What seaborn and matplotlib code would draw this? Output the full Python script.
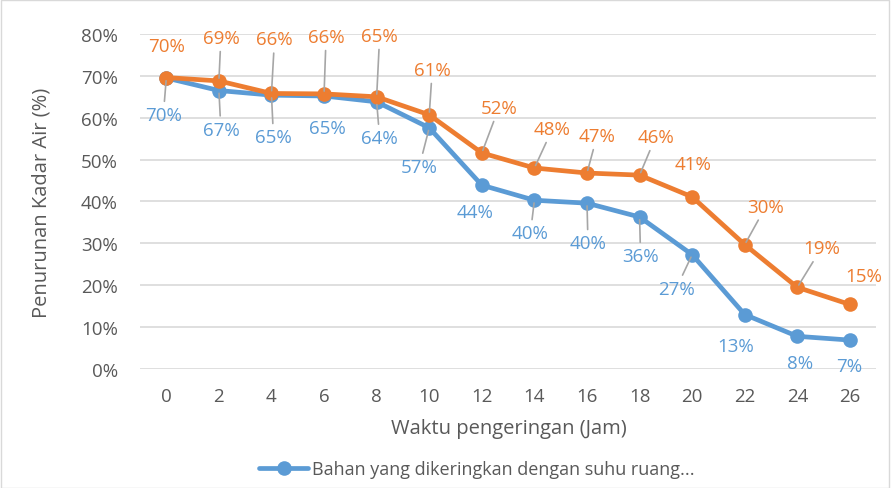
import numpy as np
import matplotlib
matplotlib.use("Agg")
import matplotlib.pyplot as plt
import seaborn as sns
from matplotlib.patches import Rectangle
from matplotlib.ticker import FuncFormatter

# data (%)
waktu = [0, 2, 4, 6, 8, 10, 12, 14, 16, 18, 20, 22, 24, 26]
suhu_ruang = [69.5, 66.5, 65.4, 65.2, 63.8, 57.6, 43.9, 40.3, 39.6, 36.3, 27.3, 13.0, 7.8, 6.9]
seri_2 = [69.6, 68.8, 65.8, 65.7, 65.0, 60.7, 51.6, 48.0, 46.8, 46.3, 41.1, 29.7, 19.5, 15.4]
label_ruang = ["70%", "67%", "65%", "65%", "64%", "57%", "44%", "40%", "40%", "36%", "27%", "13%", "8%", "7%"]
label_2 = ["70%", "69%", "66%", "66%", "65%", "61%", "52%", "48%", "47%", "46%", "41%", "30%", "19%", "15%"]
nama_ruang = "Bahan yang dikeringkan dengan suhu ruang..."

# layout of the data labels (offset pixels) and leader lines
off_ruang = [(-3, -37), (2, -39), (2, -42), (3, -32), (3, -36), (-10, -39), (-7, -27),
             (-4, -33), (1, -40), (1, -39), (-16, -34), (-9, -31), (3, -27), (-1, -26)]
lead_ruang = [1, 1, 1, 0, 1, 1, 0, 1, 1, 1, 1, 0, 0, 0]
off_2 = [(0, 32), (2, 43), (3, 54), (2, 57), (3, 61), (3, 45), (17, 45),
         (18, 39), (10, 37), (16, 38), (1, 33), (21, 38), (24, 39), (14, 28)]
lead_2 = [0, 1, 1, 1, 1, 1, 1, 1, 1, 1, 0, 1, 1, 0]

BLUE = "#5B9BD5"
ORANGE = "#ED7D31"
GREY = "#595959"

sns.set_theme(style="white")
plt.rcParams["font.family"] = ["Open Sans", "DejaVu Sans"]

fig = plt.figure(figsize=(8.93, 4.89), dpi=100)
ax = fig.add_axes([0.1568, 0.2434, 0.8244, 0.685])

sns.lineplot(x=waktu, y=suhu_ruang, ax=ax, color=BLUE, linewidth=3.4,
             marker="o", markersize=10.5, markeredgewidth=0, label=nama_ruang)
sns.lineplot(x=waktu, y=seri_2, ax=ax, color=ORANGE, linewidth=3.4,
             marker="o", markersize=10.5, markeredgewidth=0, label="_seri2")


def beri_label(xs, ys, teks, offs, leads, warna):
    for x, y, t, (dx, dy), ld in zip(xs, ys, teks, offs, leads):
        ap = None
        if ld:
            ap = dict(arrowstyle="-", color="#A6A6A6", lw=1.2, shrinkA=1, shrinkB=2)
        ax.annotate(t, (x, y), xytext=(dx, dy), textcoords="offset pixels",
                    ha="center", va="center", fontsize=13.5, color=warna,
                    arrowprops=ap, zorder=5)


beri_label(waktu, suhu_ruang, label_ruang, off_ruang, lead_ruang, BLUE)
beri_label(waktu, seri_2, label_2, off_2, lead_2, ORANGE)

ax.set_xlim(-1, 27)
ax.set_ylim(0, 80)
ax.set_xticks(waktu)
ax.set_yticks(np.arange(0, 81, 10))
ax.yaxis.set_major_formatter(FuncFormatter(lambda v, p: f"{v:.0f}%"))
ax.tick_params(axis="both", length=0, labelsize=13.5, labelcolor=GREY)
ax.tick_params(axis="x", pad=13)
ax.tick_params(axis="y", pad=16)
ax.grid(axis="y", color="#D9D9D9", linewidth=1.2)
ax.set_axisbelow(True)
for s in ax.spines.values():
    s.set_visible(False)

ax.set_xlabel("Waktu pengeringan (Jam)", fontsize=14.5, color=GREY)
ax.set_ylabel("Penurunan Kadar Air (%)", fontsize=14.5, color=GREY)
ax.xaxis.set_label_coords(0.501, -0.145)
ax.yaxis.set_label_coords(-0.12, 0.5)

ax.get_legend().remove()
h, l = ax.get_legend_handles_labels()
fig.legend(h[:1], l[:1], loc="center", bbox_to_anchor=(0.534, 0.039), frameon=False,
           fontsize=13, labelcolor=GREY, handlelength=2.7, handletextpad=0.2)

fig.patches.append(Rectangle((0.001, 0.001), 0.994, 0.997, transform=fig.transFigure,
                             fill=False, edgecolor="#D9D9D9", linewidth=1))

fig.savefig("out.png", dpi=100)
